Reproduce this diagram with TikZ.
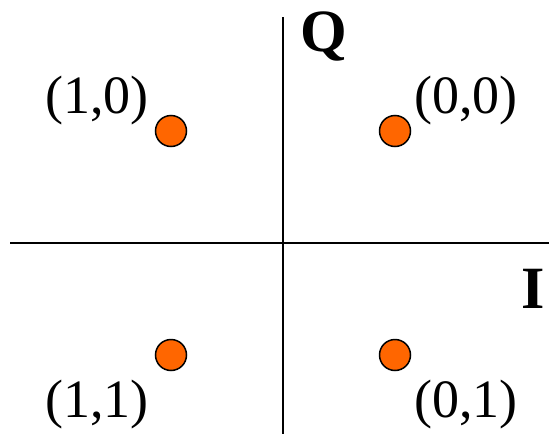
\documentclass[tikz,border=0pt]{standalone}
\usepackage{fontspec}
\setmainfont{Liberation Serif}
\definecolor{dotorange}{RGB}{255,102,0}
\begin{document}
\begin{tikzpicture}[x=1pt,y=-1pt,
  axis/.style={line width=1.5pt,black},
  dot/.style={circle,draw=black,line width=1.5pt,fill=dotorange,minimum size=31pt,inner sep=0pt},
  lab/.style={font=\fontsize{54}{54}\selectfont,inner sep=0pt},
  axlab/.style={font=\fontsize{60}{60}\selectfont\bfseries,inner sep=0pt}]
\useasboundingbox (0,0) rectangle (549,434);
\coordinate (vt) at (283,17);
\coordinate (vb) at (283,434);
\coordinate (hl) at (10,243);
\coordinate (hr) at (549,243);
\draw[axis] (vt) -- (vb);
\draw[axis] (hl) -- (hr);
\node[dot] (d10) at (171,131) {};
\node[dot] (d00) at (395,131) {};
\node[dot] (d11) at (171,355) {};
\node[dot] (d01) at (395,355) {};
\node[lab] (l10) at (97,101) {(1,0)};
\node[lab] (l00) at (466,101) {(0,0)};
\node[lab] (l11) at (97,405) {(1,1)};
\node[lab] (l01) at (466,405) {(0,1)};
\node[axlab] (q) at (324,36) {Q};
\node[axlab] (i) at (533,289) {I};
\end{tikzpicture}
\end{document}
